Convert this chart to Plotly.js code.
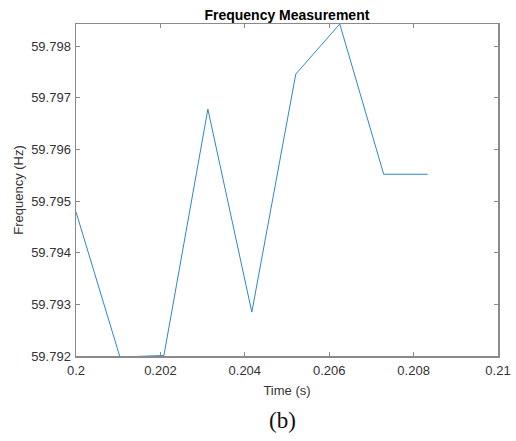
<!DOCTYPE html>
<html>
<head>
<meta charset="utf-8">
<script src="https://cdn.plot.ly/plotly-3.0.1.min.js"></script>
<style>html,body{margin:0;padding:0;background:#fff;}#chart{width:516px;height:441px;}</style>
</head>
<body>
<div id="chart"></div>
<script>
const timeS = [0.2, 0.2010417, 0.2020833, 0.203125, 0.2041667, 0.2052083, 0.20625, 0.2072917, 0.2083333];
const freqHz = [59.79479, 59.79198, 59.79201, 59.79678, 59.79285, 59.79746, 59.79843, 59.79552, 59.79552];
const xTickVals = [0.2, 0.202, 0.204, 0.206, 0.208, 0.21];
const xTickText = ["0.2", "0.202", "0.204", "0.206", "0.208", "0.21"];
const yTickVals = [59.792, 59.793, 59.794, 59.795, 59.796, 59.797, 59.798];
const yTickText = ["59.792", "59.793", "59.794", "59.795", "59.796", "59.797", "59.798"];

const font = "Liberation Sans, Arial, sans-serif";
const axisColor = "#8a8a8a";

Plotly.newPlot("chart", [{
  x: timeS, y: freqHz, type: "scatter", mode: "lines",
  line: {color: "#2f86c8", width: 1}, hoverinfo: "none", cliponaxis: false
}], {
  width: 516, height: 441,
  margin: {l: 76, r: 18, t: 24, b: 85},
  paper_bgcolor: "#fff", plot_bgcolor: "#fff",
  showlegend: false,
  title: {text: "Frequency Measurement", font: {family: font, size: 14, color: "#000", weight: "bold"},
          x: 0.556, xanchor: "center", y: 1 - 15/441, yanchor: "middle", yref: "container"},
  xaxis: {
    range: [0.2, 0.21], tickvals: xTickVals, ticktext: xTickText,
    showgrid: false, zeroline: false, showline: true, linecolor: axisColor, linewidth: 1.5,
    mirror: "ticks", ticks: "inside", ticklen: 4, tickcolor: axisColor, ticklabelstandoff: 2,
    tickfont: {family: font, size: 13, color: "#333"},
    title: {text: "Time (s)", font: {family: font, size: 13, color: "#333"}, standoff: 9}
  },
  yaxis: {
    range: [59.792, 59.79843], tickvals: yTickVals, ticktext: yTickText,
    showgrid: false, zeroline: false, showline: true, linecolor: axisColor, linewidth: 1.5,
    mirror: "ticks", ticks: "inside", ticklen: 4, tickcolor: axisColor, ticklabelstandoff: 1,
    tickfont: {family: font, size: 13, color: "#333"},
    title: {text: "Frequency (Hz)", font: {family: font, size: 13, color: "#333"}, standoff: 4}
  },
  annotations: [{
    text: "(b)", xref: "paper", yref: "paper", x: (282-76)/422, y: -(420-356)/332,
    xanchor: "center", yanchor: "middle", showarrow: false,
    font: {family: "Liberation Serif, Times New Roman, serif", size: 23, color: "#111"}
  }]
}, {staticPlot: true});
</script>
</body>
</html>
